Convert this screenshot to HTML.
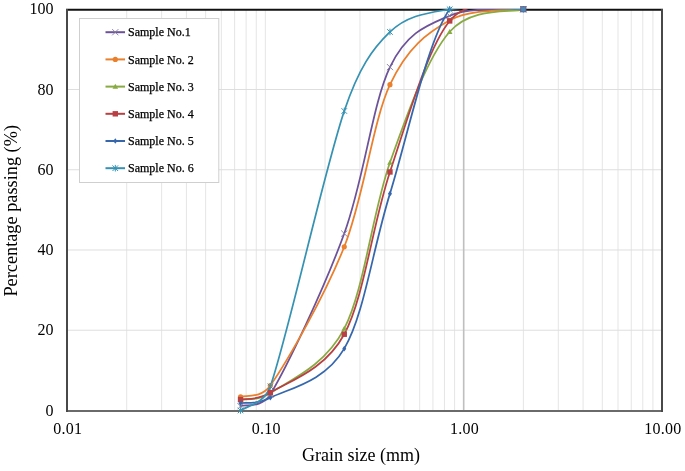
<!DOCTYPE html>
<html><head><meta charset="utf-8"><style>
html,body{margin:0;padding:0;background:#fff;width:685px;height:471px;overflow:hidden}
svg{display:block}
text{font-family:"Liberation Serif",serif;fill:#000}
</style></head><body>
<svg width="685" height="471" viewBox="0 0 685 471">
<rect width="685" height="471" fill="#fff"/>
<g filter="url(#bl)">
<defs><filter id="bl" x="0" y="0" width="100%" height="100%"><feOffset dx="0" dy="0"/></filter><clipPath id="pc"><rect x="60" y="9" width="610" height="403"/></clipPath></defs>

<line x1="126.70" y1="10" x2="126.70" y2="410.5" stroke="#e5e5e5" stroke-width="1"/>
<line x1="161.63" y1="10" x2="161.63" y2="410.5" stroke="#e5e5e5" stroke-width="1"/>
<line x1="186.41" y1="10" x2="186.41" y2="410.5" stroke="#e5e5e5" stroke-width="1"/>
<line x1="205.63" y1="10" x2="205.63" y2="410.5" stroke="#e5e5e5" stroke-width="1"/>
<line x1="221.33" y1="10" x2="221.33" y2="410.5" stroke="#e5e5e5" stroke-width="1"/>
<line x1="234.61" y1="10" x2="234.61" y2="410.5" stroke="#e5e5e5" stroke-width="1"/>
<line x1="246.11" y1="10" x2="246.11" y2="410.5" stroke="#e5e5e5" stroke-width="1"/>
<line x1="256.26" y1="10" x2="256.26" y2="410.5" stroke="#e5e5e5" stroke-width="1"/>
<line x1="265.33" y1="10" x2="265.33" y2="410.5" stroke="#e5e5e5" stroke-width="1"/>
<line x1="325.04" y1="10" x2="325.04" y2="410.5" stroke="#e5e5e5" stroke-width="1"/>
<line x1="359.96" y1="10" x2="359.96" y2="410.5" stroke="#e5e5e5" stroke-width="1"/>
<line x1="384.74" y1="10" x2="384.74" y2="410.5" stroke="#e5e5e5" stroke-width="1"/>
<line x1="403.96" y1="10" x2="403.96" y2="410.5" stroke="#e5e5e5" stroke-width="1"/>
<line x1="419.67" y1="10" x2="419.67" y2="410.5" stroke="#e5e5e5" stroke-width="1"/>
<line x1="432.94" y1="10" x2="432.94" y2="410.5" stroke="#e5e5e5" stroke-width="1"/>
<line x1="444.45" y1="10" x2="444.45" y2="410.5" stroke="#e5e5e5" stroke-width="1"/>
<line x1="454.59" y1="10" x2="454.59" y2="410.5" stroke="#e5e5e5" stroke-width="1"/>
<line x1="463.67" y1="10" x2="463.67" y2="410.5" stroke="#e5e5e5" stroke-width="1"/>
<line x1="523.37" y1="10" x2="523.37" y2="410.5" stroke="#e5e5e5" stroke-width="1"/>
<line x1="558.30" y1="10" x2="558.30" y2="410.5" stroke="#e5e5e5" stroke-width="1"/>
<line x1="583.08" y1="10" x2="583.08" y2="410.5" stroke="#e5e5e5" stroke-width="1"/>
<line x1="602.30" y1="10" x2="602.30" y2="410.5" stroke="#e5e5e5" stroke-width="1"/>
<line x1="618.00" y1="10" x2="618.00" y2="410.5" stroke="#e5e5e5" stroke-width="1"/>
<line x1="631.28" y1="10" x2="631.28" y2="410.5" stroke="#e5e5e5" stroke-width="1"/>
<line x1="642.78" y1="10" x2="642.78" y2="410.5" stroke="#e5e5e5" stroke-width="1"/>
<line x1="652.92" y1="10" x2="652.92" y2="410.5" stroke="#e5e5e5" stroke-width="1"/>
<line x1="67" y1="330.22" x2="662" y2="330.22" stroke="#dedede" stroke-width="1"/>
<line x1="67" y1="249.99" x2="662" y2="249.99" stroke="#dedede" stroke-width="1"/>
<line x1="67" y1="169.76" x2="662" y2="169.76" stroke="#dedede" stroke-width="1"/>
<line x1="67" y1="89.53" x2="662" y2="89.53" stroke="#dedede" stroke-width="1"/>
<line x1="463.67" y1="10" x2="463.67" y2="410.5" stroke="#bfbfbf" stroke-width="1.6"/>
<line x1="66" y1="9.75" x2="663" y2="9.75" stroke="#111" stroke-width="2"/>
<line x1="66" y1="410.9" x2="663" y2="410.9" stroke="#6a6a6a" stroke-width="2"/>
<line x1="67" y1="9" x2="67" y2="411.9" stroke="#484848" stroke-width="2"/>
<line x1="662" y1="9" x2="662" y2="411.9" stroke="#484848" stroke-width="2"/>
<path d="M240.55,406.24 C245.52,404.27 262.10,408.15 270.35,394.40 C287.64,365.62 324.32,288.10 344.26,233.54 C364.19,178.99 372.40,103.37 389.96,67.07 C407.11,31.62 427.43,25.35 449.67,15.72 C471.90,6.09 511.09,10.37 523.37,9.30" stroke="#6c5299" stroke-width="1.75" fill="none" stroke-linejoin="round" stroke-linecap="round" clip-path="url(#pc)"/>
<path d="M240.55,396.81 C245.52,394.94 261.30,398.68 270.35,385.58 C287.64,360.57 324.32,296.92 344.26,246.78 C364.19,196.64 372.40,122.46 389.96,84.72 C407.53,46.97 427.43,32.90 449.67,20.33 C471.90,7.76 511.09,11.14 523.37,9.30" stroke="#ea7f2c" stroke-width="1.75" fill="none" stroke-linejoin="round" stroke-linecap="round" clip-path="url(#pc)"/>
<path d="M240.55,399.62 C245.52,398.52 257.76,401.62 270.35,393.00 C287.64,381.17 324.32,367.03 344.26,328.62 C364.19,290.21 372.40,212.01 389.96,162.54 C407.53,113.06 427.43,57.30 449.67,31.76 C471.90,6.22 511.09,13.04 523.37,9.30" stroke="#88aa42" stroke-width="1.75" fill="none" stroke-linejoin="round" stroke-linecap="round" clip-path="url(#pc)"/>
<path d="M240.55,399.62 C245.52,398.45 257.40,400.76 270.35,392.60 C287.64,381.70 324.32,371.00 344.26,334.23 C364.19,297.46 372.40,224.18 389.96,171.97 C407.53,119.75 427.43,48.04 449.67,20.93 C471.90,-6.18 511.09,11.24 523.37,9.30" stroke="#b83f43" stroke-width="1.75" fill="none" stroke-linejoin="round" stroke-linecap="round" clip-path="url(#pc)"/>
<path d="M240.55,403.23 C245.52,402.33 256.95,404.86 270.35,397.81 C287.64,388.72 324.32,382.70 344.26,348.67 C364.19,314.64 372.40,250.19 389.96,193.63 C407.53,137.07 427.43,40.02 449.67,9.30 C471.27,-20.55 511.09,9.30 523.37,9.30" stroke="#3667ad" stroke-width="1.75" fill="none" stroke-linejoin="round" stroke-linecap="round" clip-path="url(#pc)"/>
<path d="M240.55,410.45 C245.52,406.44 264.08,404.48 270.35,386.38 C287.64,336.47 324.32,170.06 344.26,110.99 C358.85,67.74 372.40,48.91 389.96,31.96 C407.53,15.02 427.43,13.08 449.67,9.30 C471.90,5.52 511.09,9.30 523.37,9.30" stroke="#3592b2" stroke-width="1.75" fill="none" stroke-linejoin="round" stroke-linecap="round" clip-path="url(#pc)"/>
<path d="M237.45,403.14L243.65,409.34M237.45,409.34L243.65,403.14" stroke="#857a9e" stroke-width="0.9" fill="none"/>
<path d="M267.25,391.30L273.45,397.50M267.25,397.50L273.45,391.30" stroke="#857a9e" stroke-width="0.9" fill="none"/>
<path d="M341.16,230.44L347.36,236.64M341.16,236.64L347.36,230.44" stroke="#857a9e" stroke-width="0.9" fill="none"/>
<path d="M386.86,63.97L393.06,70.17M386.86,70.17L393.06,63.97" stroke="#857a9e" stroke-width="0.9" fill="none"/>
<path d="M446.57,12.62L452.77,18.82M446.57,18.82L452.77,12.62" stroke="#857a9e" stroke-width="0.9" fill="none"/>
<path d="M520.27,6.20L526.47,12.40M520.27,12.40L526.47,6.20" stroke="#857a9e" stroke-width="0.9" fill="none"/>
<circle cx="240.55" cy="396.81" r="2.6" fill="#ea7f2c"/>
<circle cx="270.35" cy="385.58" r="2.6" fill="#ea7f2c"/>
<circle cx="344.26" cy="246.78" r="2.6" fill="#ea7f2c"/>
<circle cx="389.96" cy="84.72" r="2.6" fill="#ea7f2c"/>
<circle cx="449.67" cy="20.33" r="2.6" fill="#ea7f2c"/>
<circle cx="523.37" cy="9.30" r="2.6" fill="#ea7f2c"/>
<path d="M240.55,396.82L243.35,401.86L237.75,401.86Z" fill="#88aa42"/>
<path d="M270.35,390.20L273.15,395.24L267.55,395.24Z" fill="#88aa42"/>
<path d="M344.26,325.82L347.06,330.86L341.46,330.86Z" fill="#88aa42"/>
<path d="M389.96,159.74L392.76,164.78L387.16,164.78Z" fill="#88aa42"/>
<path d="M449.67,28.96L452.47,34.00L446.87,34.00Z" fill="#88aa42"/>
<path d="M523.37,6.50L526.17,11.54L520.57,11.54Z" fill="#88aa42"/>
<rect x="237.85" y="396.92" width="5.40" height="5.40" fill="#b83f43"/>
<rect x="267.65" y="389.90" width="5.40" height="5.40" fill="#b83f43"/>
<rect x="341.56" y="331.53" width="5.40" height="5.40" fill="#b83f43"/>
<rect x="387.26" y="169.27" width="5.40" height="5.40" fill="#b83f43"/>
<rect x="446.97" y="18.23" width="5.40" height="5.40" fill="#b83f43"/>
<rect x="520.67" y="6.60" width="5.40" height="5.40" fill="#b83f43"/>
<path d="M240.55,400.43L242.57,403.23L240.55,406.03L238.54,403.23Z" fill="#3667ad"/>
<path d="M270.35,395.01L272.37,397.81L270.35,400.61L268.34,397.81Z" fill="#3667ad"/>
<path d="M344.26,345.87L346.27,348.67L344.26,351.47L342.24,348.67Z" fill="#3667ad"/>
<path d="M389.96,190.83L391.98,193.63L389.96,196.43L387.95,193.63Z" fill="#3667ad"/>
<path d="M449.67,6.50L451.68,9.30L449.67,12.10L447.65,9.30Z" fill="#3667ad"/>
<path d="M523.37,6.50L525.39,9.30L523.37,12.10L521.35,9.30Z" fill="#3667ad"/>
<path d="M237.75,407.65L243.35,413.25M237.75,413.25L243.35,407.65M240.55,407.15L240.55,413.75" stroke="#3592b2" stroke-width="1" fill="none"/>
<path d="M267.55,383.58L273.15,389.18M267.55,389.18L273.15,383.58M270.35,383.08L270.35,389.68" stroke="#3592b2" stroke-width="1" fill="none"/>
<path d="M341.46,108.19L347.06,113.79M341.46,113.79L347.06,108.19M344.26,107.69L344.26,114.29" stroke="#3592b2" stroke-width="1" fill="none"/>
<path d="M387.16,29.16L392.76,34.76M387.16,34.76L392.76,29.16M389.96,28.66L389.96,35.26" stroke="#3592b2" stroke-width="1" fill="none"/>
<path d="M446.87,6.50L452.47,12.10M446.87,12.10L452.47,6.50M449.67,6.00L449.67,12.60" stroke="#3592b2" stroke-width="1" fill="none"/>
<path d="M520.57,6.50L526.17,12.10M520.57,12.10L526.17,6.50M523.37,6.00L523.37,12.60" stroke="#3592b2" stroke-width="1" fill="none"/>
<rect x="520.77" y="6.70" width="5.2" height="5.2" fill="#4a8cb8" stroke="#6a5a8a" stroke-width="0.8"/>
<rect x="79.5" y="18.5" width="139.3" height="164" fill="#fff" stroke="#cfcfcf" stroke-width="1"/>
<line x1="105.5" y1="32.20" x2="125" y2="32.20" stroke="#6c5299" stroke-width="2"/>
<path d="M112.20,29.10L118.40,35.30M112.20,35.30L118.40,29.10" stroke="#857a9e" stroke-width="0.9" fill="none"/>
<text x="128" y="36.40" font-size="12" stroke="#000" stroke-width="0.25">Sample No.1</text>
<line x1="105.5" y1="59.40" x2="125" y2="59.40" stroke="#ea7f2c" stroke-width="2"/>
<circle cx="115.30" cy="59.40" r="2.6" fill="#ea7f2c"/>
<text x="128" y="63.60" font-size="12" stroke="#000" stroke-width="0.25">Sample No. 2</text>
<line x1="105.5" y1="86.60" x2="125" y2="86.60" stroke="#88aa42" stroke-width="2"/>
<path d="M115.30,83.80L118.10,88.84L112.50,88.84Z" fill="#88aa42"/>
<text x="128" y="90.80" font-size="12" stroke="#000" stroke-width="0.25">Sample No. 3</text>
<line x1="105.5" y1="113.80" x2="125" y2="113.80" stroke="#b83f43" stroke-width="2"/>
<rect x="112.60" y="111.10" width="5.40" height="5.40" fill="#b83f43"/>
<text x="128" y="118.00" font-size="12" stroke="#000" stroke-width="0.25">Sample No. 4</text>
<line x1="105.5" y1="141.00" x2="125" y2="141.00" stroke="#3667ad" stroke-width="2"/>
<path d="M115.30,138.20L117.32,141.00L115.30,143.80L113.28,141.00Z" fill="#3667ad"/>
<text x="128" y="145.20" font-size="12" stroke="#000" stroke-width="0.25">Sample No. 5</text>
<line x1="105.5" y1="168.20" x2="125" y2="168.20" stroke="#3592b2" stroke-width="2"/>
<path d="M112.50,165.40L118.10,171.00M112.50,171.00L118.10,165.40M115.30,164.90L115.30,171.50" stroke="#3592b2" stroke-width="1" fill="none"/>
<text x="128" y="172.40" font-size="12" stroke="#000" stroke-width="0.25">Sample No. 6</text>
<text x="53.5" y="415.55" font-size="16" text-anchor="end">0</text>
<text x="53.5" y="335.32" font-size="16" text-anchor="end">20</text>
<text x="53.5" y="255.09" font-size="16" text-anchor="end">40</text>
<text x="53.5" y="174.86" font-size="16" text-anchor="end">60</text>
<text x="53.5" y="94.63" font-size="16" text-anchor="end">80</text>
<text x="53.5" y="14.40" font-size="16" text-anchor="end">100</text>
<text x="67.80" y="434.1" font-size="16" letter-spacing="0.25" text-anchor="middle">0.01</text>
<text x="266.13" y="434.1" font-size="16" letter-spacing="0.25" text-anchor="middle">0.10</text>
<text x="464.47" y="434.1" font-size="16" letter-spacing="0.25" text-anchor="middle">1.00</text>
<text x="662.80" y="434.1" font-size="16" letter-spacing="0.25" text-anchor="middle">10.00</text>
<text x="361" y="460.5" font-size="18" text-anchor="middle">Grain size (mm)</text>
<text transform="translate(16.8,210.8) rotate(-90)" font-size="18.3" text-anchor="middle">Percentage passing (%)</text>
</g></svg></body></html>
